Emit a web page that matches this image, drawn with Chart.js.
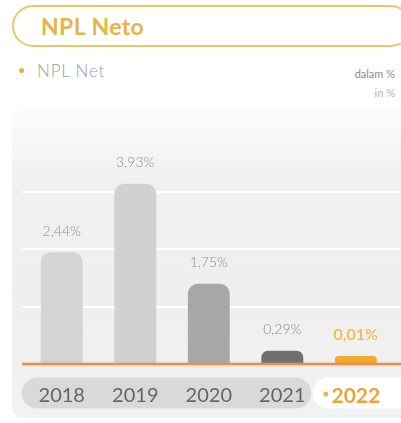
<!DOCTYPE html>
<html>
<head>
<meta charset="utf-8">
<script src="https://cdn.jsdelivr.net/npm/chart.js@4.4.0/dist/chart.umd.min.js"></script>
<style>
  body { margin: 0; width: 401px; height: 423px; overflow: hidden; background: #fff; position: relative; font-family: Lato, "Open Sans", sans-serif; }
  .title { position: absolute; left: 12px; top: 5px; width: 400px; height: 42px; box-sizing: border-box; border: 2px solid #edc66c; border-radius: 22px; padding-left: 27px; font-weight: 700; font-size: 23px; letter-spacing: 0.4px; line-height: 38px; color: #e7b545; }
  .legend { position: absolute; left: 19px; top: 62px; font-size: 17px; font-weight: 300; letter-spacing: 0.8px; line-height: 18px; color: #a0a0a0; }
  .legend i { display: inline-block; width: 5px; height: 5px; border-radius: 50%; background: #f1a83c; margin-right: 13px; vertical-align: middle; position: relative; top: -2px; }
  .unit { position: absolute; right: 6px; top: 64px; text-align: right; font-size: 11px; line-height: 19px; color: #8c8c8c; }
  .unit span { color: #b4b4b4; }
  .panel { position: absolute; left: 12px; top: 108px; width: 400px; height: 310px; border-radius: 10px; background: linear-gradient(#fdfdfd, #f1f1f1 22%, #efefef 60%, #f2f2f2); }
  canvas { position: absolute; left: 0; top: 110px; }
</style>
</head>
<body>
<div class="title">NPL Neto</div>
<div class="legend"><i></i>NPL Net</div>
<div class="unit">dalam %<br><span>in %</span></div>
<div class="panel"></div>
<canvas id="nplChart" width="401" height="313"></canvas>
<script>
const years = ['2018', '2019', '2020', '2021', '2022'];
const nplNet = [2.44, 3.93, 1.75, 0.29, 0.01];
const barColors = ['#d4d4d4', '#d1d1d1', '#a7a7a7', '#6f6f6f', '#f5aa2b'];

const FONT = 'Lato, "Open Sans", sans-serif';
const LAST = years.length - 1;

function pill(ctx, x1, y1, x2, y2, color) {
    const r = (y2 - y1) / 2;
    ctx.beginPath();
    ctx.moveTo(x1 + r, y1);
    ctx.lineTo(x2 - r, y1);
    ctx.arc(x2 - r, y1 + r, r, -Math.PI / 2, Math.PI / 2);
    ctx.lineTo(x1 + r, y2);
    ctx.arc(x1 + r, y1 + r, r, Math.PI / 2, Math.PI * 1.5);
    ctx.closePath();
    ctx.fillStyle = color;
    ctx.fill();
}

// grid lines, year pills, baseline and value labels
const decor = {
    id: 'decor',
    beforeDraw(chart) {
        const { ctx, scales: { x, y } } = chart;
        const base = y.getPixelForValue(0);
        const mid = base + 29;

        ctx.save();
        ctx.strokeStyle = '#ffffff';
        ctx.lineWidth = 2;
        y.ticks.forEach(t => {
            if (t.value > 0 && t.value < 4) {
                const py = Math.round(y.getPixelForValue(t.value));
                ctx.beginPath();
                ctx.moveTo(22, py);
                ctx.lineTo(chart.width, py);
                ctx.stroke();
            }
        });

        pill(ctx, x.getPixelForValue(0) - 40, mid - 15.5, x.getPixelForValue(3) + 29, mid + 15.5, '#d9d9d9');
        pill(ctx, x.getPixelForValue(LAST) - 43, mid - 15.5, chart.width + 20, mid + 15.5, '#ffffff');

        ctx.beginPath();
        ctx.arc(x.getPixelForValue(LAST) - 30, mid + 1, 2.5, 0, Math.PI * 2);
        ctx.fillStyle = '#f3b24a';
        ctx.fill();
        ctx.restore();
    },
    afterDatasetsDraw(chart) {
        const { ctx, scales: { y } } = chart;
        const base = y.getPixelForValue(0);

        ctx.save();
        ctx.strokeStyle = 'rgba(240, 140, 80, 0.25)';
        ctx.lineWidth = 5;
        ctx.beginPath();
        ctx.moveTo(22, base);
        ctx.lineTo(chart.width, base);
        ctx.stroke();
        ctx.strokeStyle = '#ee8a4b';
        ctx.lineWidth = 2;
        ctx.stroke();

        ctx.textAlign = 'center';
        ctx.textBaseline = 'middle';
        chart.getDatasetMeta(0).data.forEach((bar, i) => {
            const label = nplNet[i].toFixed(2).replace('.', ',') + '%';
            if (i === LAST) {
                ctx.font = '600 16px ' + FONT;
                ctx.fillStyle = '#f2b94a';
            } else {
                ctx.font = '300 14px ' + FONT;
                ctx.fillStyle = '#8d8d8d';
            }
            ctx.fillText(label, bar.x, bar.y - 21);
        });
        ctx.restore();
    }
};

new Chart(document.getElementById('nplChart'), {
    type: 'bar',
    data: {
        labels: years,
        datasets: [{
            data: nplNet,
            backgroundColor: barColors,
            borderRadius: { topLeft: 10, topRight: 10 },
            borderSkipped: 'start',
            categoryPercentage: 1,
            barPercentage: 0.57,
            minBarLength: 8
        }]
    },
    options: {
        responsive: false,
        animation: false,
        layout: { padding: { left: 25, right: 8, top: 11, bottom: 0 } },
        plugins: {
            legend: { display: false },
            tooltip: { enabled: false }
        },
        scales: {
            x: {
                grid: { display: false, drawTicks: false },
                border: { display: false },
                ticks: {
                    padding: 20,
                    color: c => c.index === LAST ? '#e9a43c' : '#666666',
                    font: c => c.index === LAST
                        ? { family: FONT, size: 21, weight: '700' }
                        : { family: FONT, size: 20 }
                },
                afterFit: s => { s.height = 59; }
            },
            y: {
                min: 0,
                max: 5.3,
                ticks: { display: false, stepSize: 1.25 },
                grid: { display: false },
                border: { display: false },
                afterFit: s => { s.width = 0; }
            }
        }
    },
    plugins: [decor]
});
</script>
</body>
</html>
